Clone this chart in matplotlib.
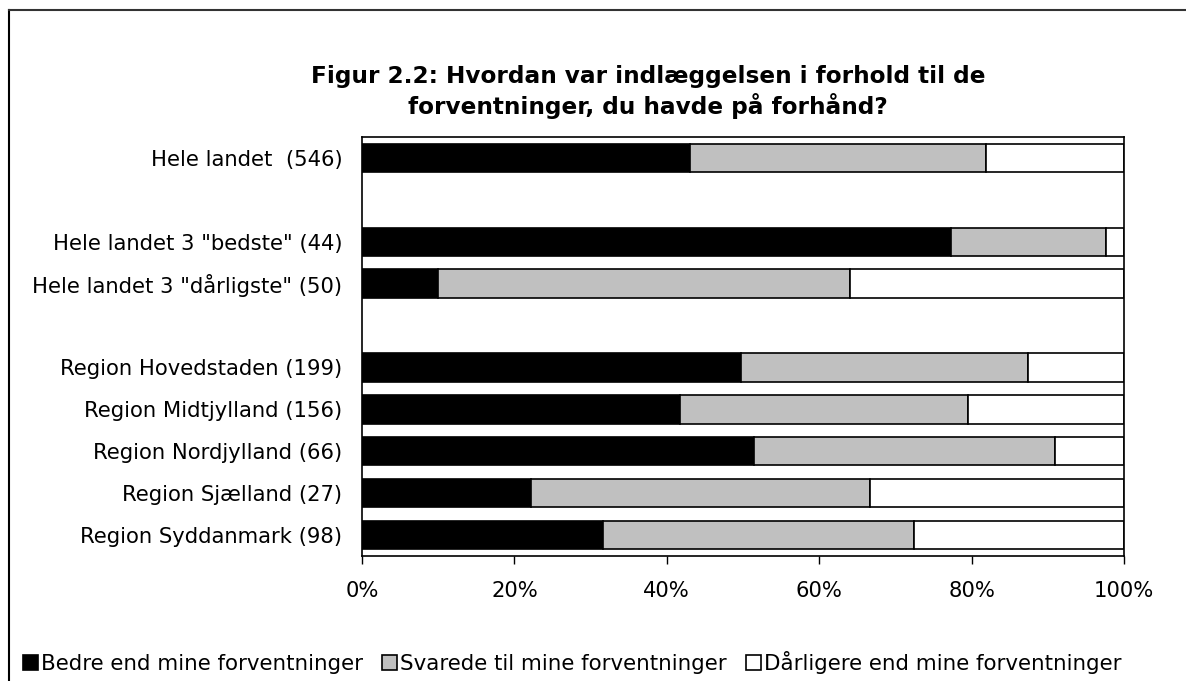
import matplotlib
matplotlib.use("Agg")
import numpy as np
import matplotlib.pyplot as plt
from matplotlib.lines import Line2D
from matplotlib.patches import Patch

# Row labels, top to bottom (empty strings are spacer rows)
labels = [
    'Hele landet  (546)',
    '',
    'Hele landet 3 "bedste" (44)',
    'Hele landet 3 "dårligste" (50)',
    '',
    'Region Hovedstaden (199)',
    'Region Midtjylland (156)',
    'Region Nordjylland (66)',
    'Region Sjælland (27)',
    'Region Syddanmark (98)',
]

# Percent shares per row (spacer rows are 0)
bedre = [43.0, 0, 77.3, 10.0, 0, 49.7, 41.7, 51.5, 22.2, 31.6]
svarede = [38.9, 0, 20.4, 54.0, 0, 37.7, 37.8, 39.4, 44.5, 40.8]
daarligere = [18.1, 0, 2.3, 36.0, 0, 12.6, 20.5, 9.1, 33.3, 27.6]

series_names = ['Bedre end mine forventninger',
                'Svarede til mine forventninger',
                'Dårligere end mine forventninger']
colors = ['#000000', '#C0C0C0', '#FFFFFF']

xticks = [0, 20, 40, 60, 80, 100]

plt.rcParams['font.family'] = ['DejaVu Sans']

W, H = 1186, 681
fig = plt.figure(figsize=(W / 100, H / 100), dpi=100)
fig.patch.set_facecolor('white')

# outer chart frame (only top and left visible in the reference)
fig.add_artist(Line2D([8.5 / W, 8.5 / W], [0, 1 - 10 / H], color='black', lw=1.5))
fig.add_artist(Line2D([8.5 / W, 1], [1 - 10 / H, 1 - 10 / H], color='#333333', lw=1.5))

ax = fig.add_axes([362 / W, 1 - 556 / H, (1124 - 362) / W, (556 - 137) / H])

y = np.arange(len(labels))
left = np.zeros(len(labels))
for vals, col in zip([bedre, svarede, daarligere], colors):
    vals = np.array(vals)
    mask = vals > 0
    ax.barh(y[mask], vals[mask], left=left[mask], height=0.68, color=col,
            edgecolor='black', linewidth=1.2)
    left += vals

ax.set_xlim(0, 100)
ax.set_ylim(len(labels) - 0.5, -0.5)
ax.set_yticks(y)
ax.set_yticklabels(labels, fontsize=15.2)
ax.tick_params(axis='y', length=0, pad=14)
ax.set_xticks(xticks)
ax.set_xticklabels([f'{t}%' for t in xticks], fontsize=15.2)
ax.tick_params(axis='x', length=6, width=1, direction='out', pad=12)
for s in ax.spines.values():
    s.set_linewidth(1.2)

fig.text(648 / W, 1 - 76 / H, 'Figur 2.2: Hvordan var indlæggelsen i forhold til de',
         ha='center', va='center', fontsize=16.7, fontweight='bold')
fig.text(648 / W, 1 - 106 / H, 'forventninger, du havde på forhånd?',
         ha='center', va='center', fontsize=16.7, fontweight='bold')

handles = [Patch(facecolor=c, edgecolor='black', linewidth=1.2) for c in colors]
fig.legend(handles, series_names, loc='center left',
           bbox_to_anchor=(14 / W, 1 - 662 / H), ncol=3, frameon=False,
           fontsize=15.4, handlelength=0.7, handleheight=0.7,
           handletextpad=0.15, columnspacing=0.9, borderaxespad=0)

fig.savefig('out.png', dpi=100)
